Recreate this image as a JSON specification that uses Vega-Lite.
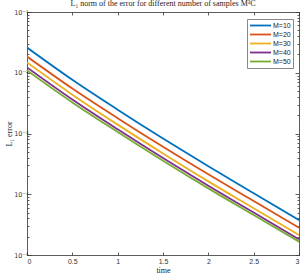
{
  "$schema": "https://vega.github.io/schema/vega-lite/v6.json",
  "width": 272,
  "height": 243,
  "autosize": "none",
  "padding": {"left": 27, "top": 12, "right": 3, "bottom": 20},
  "background": "white",
  "config": {"view": {"stroke": null}},
  "title": {"text": "L₁ norm of the error for different number of samples M³C", "font": "Liberation Serif", "fontSize": 8, "fontWeight": "normal", "color": "#222", "offset": 1},
  "data": {"values": [
    {"t": 0, "err": 0.0260, "M": "M=10"},
    {"t": 0.5, "err": 0.00767, "M": "M=10"},
    {"t": 1, "err": 0.00247, "M": "M=10"},
    {"t": 1.5, "err": 0.000828, "M": "M=10"},
    {"t": 2, "err": 0.000288, "M": "M=10"},
    {"t": 2.5, "err": 0.000104, "M": "M=10"},
    {"t": 3, "err": 0.0000375, "M": "M=10"},
    {"t": 0, "err": 0.0185, "M": "M=20"},
    {"t": 0.5, "err": 0.00551, "M": "M=20"},
    {"t": 1, "err": 0.00179, "M": "M=20"},
    {"t": 1.5, "err": 0.000605, "M": "M=20"},
    {"t": 2, "err": 0.000213, "M": "M=20"},
    {"t": 2.5, "err": 0.0000773, "M": "M=20"},
    {"t": 3, "err": 0.0000281, "M": "M=20"},
    {"t": 0, "err": 0.01476, "M": "M=30"},
    {"t": 0.5, "err": 0.00436, "M": "M=30"},
    {"t": 1, "err": 0.00140, "M": "M=30"},
    {"t": 1.5, "err": 0.000470, "M": "M=30"},
    {"t": 2, "err": 0.000163, "M": "M=30"},
    {"t": 2.5, "err": 0.0000589, "M": "M=30"},
    {"t": 3, "err": 0.0000213, "M": "M=30"},
    {"t": 0, "err": 0.01222, "M": "M=40"},
    {"t": 0.5, "err": 0.00362, "M": "M=40"},
    {"t": 1, "err": 0.00117, "M": "M=40"},
    {"t": 1.5, "err": 0.000394, "M": "M=40"},
    {"t": 2, "err": 0.000138, "M": "M=40"},
    {"t": 2.5, "err": 0.0000499, "M": "M=40"},
    {"t": 3, "err": 0.0000181, "M": "M=40"},
    {"t": 0, "err": 0.01092, "M": "M=50"},
    {"t": 0.5, "err": 0.00325, "M": "M=50"},
    {"t": 1, "err": 0.00106, "M": "M=50"},
    {"t": 1.5, "err": 0.000357, "M": "M=50"},
    {"t": 2, "err": 0.000125, "M": "M=50"},
    {"t": 2.5, "err": 0.0000455, "M": "M=50"},
    {"t": 3, "err": 0.0000166, "M": "M=50"}
  ]},
  "layer": [
    {
      "mark": {"type": "line", "strokeWidth": 1.8, "interpolate": "monotone", "clip": true},
      "encoding": {
        "x": {"field": "t", "type": "quantitative",
          "scale": {"domain": [0, 3], "nice": false, "zero": false},
          "axis": {"orient": "bottom", "values": [0, 0.5, 1, 1.5, 2, 2.5, 3], "format": "~g", "title": "time",
            "titleFont": "Liberation Serif", "titleFontSize": 8, "titleFontWeight": "normal", "titleColor": "#222", "titlePadding": 2,
            "labelFont": "Liberation Sans", "labelFontSize": 7, "labelColor": "#333", "labelPadding": 5,
            "tickSize": -3, "tickColor": "#333", "domainColor": "#333", "domainWidth": 0.8, "tickWidth": 0.8, "grid": false}},
        "y": {"field": "err", "type": "quantitative",
          "scale": {"type": "log", "domain": [0.00001, 0.1], "nice": false},
          "axis": {"orient": "left", "title": "L₁ error",
            "values": [0.00001, 0.00002, 0.00003, 0.00004, 0.00005, 0.00006, 0.00007, 0.00008, 0.00009, 0.0001, 0.0002, 0.0003, 0.0004, 0.0005, 0.0006, 0.0007, 0.0008, 0.0009, 0.001, 0.002, 0.003, 0.004, 0.005, 0.006, 0.007, 0.008, 0.009, 0.01, 0.02, 0.03, 0.04, 0.05, 0.06, 0.07, 0.08, 0.09, 0.1],
            "labelExpr": "abs(log(datum.value)/LN10 - round(log(datum.value)/LN10)) < 0.01 ? (round(log(datum.value)/LN10) == -1 ? '10⁻¹' : round(log(datum.value)/LN10) == -2 ? '10⁻²' : round(log(datum.value)/LN10) == -3 ? '10⁻³' : round(log(datum.value)/LN10) == -4 ? '10⁻⁴' : '10⁻⁵') : ''",
            "labelOverlap": false, "labelBound": false,
            "titleFont": "Liberation Serif", "titleFontSize": 8, "titleFontWeight": "normal", "titleColor": "#222", "titlePadding": 0,
            "labelFont": "DejaVu Sans", "labelFontSize": 6.5, "labelColor": "#333", "labelPadding": 3,
            "tickSize": {"condition": {"test": "abs(log(datum.value)/LN10 - round(log(datum.value)/LN10)) < 0.01", "value": -4}, "value": -2},
            "tickColor": "#333", "domainColor": "#333", "domainWidth": 0.8, "tickWidth": 0.8, "grid": false}},
        "color": {"field": "M", "type": "nominal",
          "scale": {"domain": ["M=10", "M=20", "M=30", "M=40", "M=50"], "range": ["#0072BD", "#D95319", "#EDB120", "#7E2F8E", "#77AC30"]},
          "legend": {"orient": "none", "legendX": 220, "legendY": 7, "title": null, "symbolType": "M-3,0H3", "symbolSize": 49, "symbolStrokeWidth": 1.8, "symbolOffset": 7,
            "labelFont": "Liberation Sans", "labelFontSize": 7, "labelColor": "#222", "labelOffset": 8, "rowPadding": 0,
            "padding": 2, "strokeColor": "#888", "fillColor": "white", "cornerRadius": 0}}
      }
    },
    {
      "mark": {"type": "point", "opacity": 0},
      "encoding": {
        "x": {"field": "t", "type": "quantitative",
          "axis": {"orient": "top", "values": [0, 0.5, 1, 1.5, 2, 2.5, 3], "title": null, "labels": false,
            "tickSize": -3, "tickColor": "#333", "domainColor": "#333", "domainWidth": 0.8, "tickWidth": 0.8, "grid": false}},
        "y": {"field": "err", "type": "quantitative",
          "axis": {"orient": "right", "title": null, "labels": false,
            "values": [0.00001, 0.00002, 0.00003, 0.00004, 0.00005, 0.00006, 0.00007, 0.00008, 0.00009, 0.0001, 0.0002, 0.0003, 0.0004, 0.0005, 0.0006, 0.0007, 0.0008, 0.0009, 0.001, 0.002, 0.003, 0.004, 0.005, 0.006, 0.007, 0.008, 0.009, 0.01, 0.02, 0.03, 0.04, 0.05, 0.06, 0.07, 0.08, 0.09, 0.1],
            "tickSize": {"condition": {"test": "abs(log(datum.value)/LN10 - round(log(datum.value)/LN10)) < 0.01", "value": -4}, "value": -2},
            "tickColor": "#333", "domainColor": "#333", "domainWidth": 0.8, "tickWidth": 0.8, "grid": false}}
      }
    }
  ],
  "resolve": {"axis": {"x": "independent", "y": "independent"}}
}
